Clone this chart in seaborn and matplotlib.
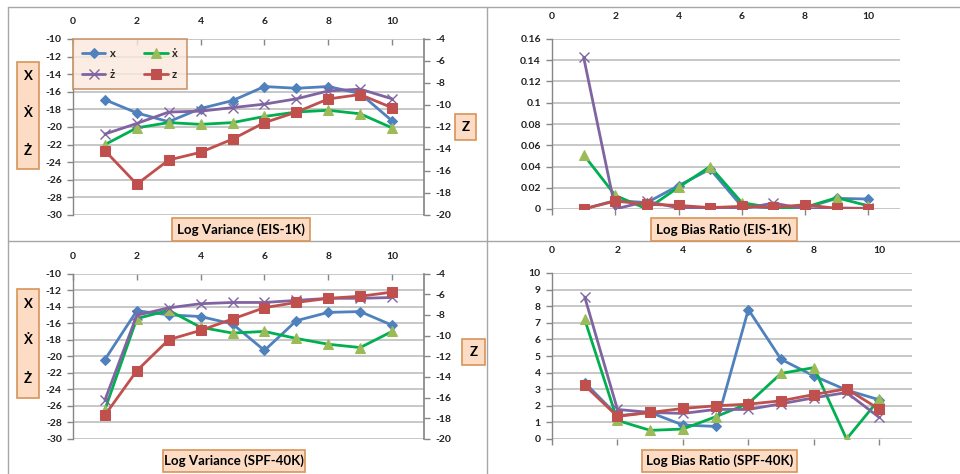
import matplotlib
matplotlib.use("Agg")
import matplotlib.pyplot as plt
import seaborn as sns
import pandas as pd
from matplotlib.patches import Rectangle
from matplotlib.lines import Line2D
from matplotlib.ticker import FuncFormatter, MultipleLocator

sns.set_theme(style="white")
plt.rcParams['font.family'] = ['Lato', 'DejaVu Sans']

# ---------------- data ----------------
steps = [1, 2, 3, 4, 5, 6, 7, 8, 9, 10]
series_labels = ["x", "ẋ", "ż", "z"]

# Log Variance (EIS-1K)
var_eis_x    = [-16.9, -18.4, -19.4, -17.9, -17.0, -15.4, -15.6, -15.4, -16.2, -19.3]
var_eis_xdot = [-22.0, -20.1, -19.5, -19.7, -19.5, -18.8, -18.3, -18.1, -18.5, -20.1]
var_eis_zdot = [-20.8, -19.6, -18.3, -18.2, -17.8, -17.4, -16.8, -15.9, -15.7, -16.8]
var_eis_z    = [-14.15, -17.2, -15.0, -14.3, -13.1, -11.6, -10.65, -9.45, -9.05, -10.25]

# Log Bias Ratio (EIS-1K)
bias_eis_x    = [0.0, 0.008, 0.006, 0.022, 0.0375, 0.0025, 0.001, 0.001, 0.010, 0.0094]
bias_eis_xdot = [0.051, 0.0128, 0.0, 0.0204, 0.040, 0.006, 0.001, 0.0016, 0.0106, 0.003]
bias_eis_zdot = [0.1428, 0.0, 0.0072, 0.001, 0.001, 0.0, 0.0056, 0.0, 0.001, 0.0006]
bias_eis_z    = [0.0, 0.0075, 0.0044, 0.0034, 0.0013, 0.0025, 0.0016, 0.004, 0.0006, 0.0]

# Log Variance (SPF-40K)
var_spf_x    = [-20.4, -14.5, -15.0, -15.2, -16.1, -19.3, -15.7, -14.7, -14.6, -16.25]
var_spf_xdot = [-26.45, -15.45, -14.45, -16.5, -17.2, -17.0, -17.85, -18.55, -18.95, -17.0]
var_spf_zdot = [-25.3, -15.05, -14.15, -13.65, -13.5, -13.5, -13.25, -13.0, -13.0, -12.9]
var_spf_z    = [-17.7, -13.4, -10.4, -9.5, -8.4, -7.3, -6.8, -6.4, -6.2, -5.8]

# Log Bias Ratio (SPF-40K)
bias_spf_x    = [3.4, 1.4, 1.6, 0.84, 0.76, 7.8, 4.8, 3.8, 2.95, 2.36]
bias_spf_xdot = [7.2, 1.12, 0.52, 0.6, 1.34, 2.14, 3.95, 4.3, 0.0, 2.4]
bias_spf_zdot = [8.55, 1.78, 1.6, 1.54, 1.78, 1.78, 2.12, 2.48, 2.8, 1.3]
bias_spf_z    = [3.23, 1.36, 1.6, 1.84, 2.0, 2.1, 2.3, 2.68, 3.02, 1.8]

titles = ["Log Variance (EIS-1K)", "Log Bias Ratio (EIS-1K)",
          "Log Variance (SPF-40K)", "Log Bias Ratio (SPF-40K)"]
x_ticks = [0, 2, 4, 6, 8, 10]

# ---------------- style ----------------
W, H = 960, 474
fig = plt.figure(figsize=(9.6, 4.74), dpi=100)
fig.patch.set_facecolor("white")

styles = {
    "x": dict(color="#4F81BD", marker="D", markersize=5.5, markerfacecolor="#4F81BD", markeredgecolor="#4F81BD"),
    "ẋ": dict(color="#00B050", marker="^", markersize=7.5, markerfacecolor="#9BBB59", markeredgecolor="#9BBB59"),
    "ż": dict(color="#8064A2", marker="x", markersize=7, markeredgewidth=1.0, markeredgecolor="#8064A2"),
    "z": dict(color="#C0504D", marker="s", markersize=7, markerfacecolor="#C0504D", markeredgecolor="#C0504D"),
}
GRID = "#BEBEBE"
AX = "#868686"
TXT = "#222222"
BOX_FILL = "#FCDCC4"
BOX_EDGE = "#D9955A"


def fr(x0, y0, x1, y1):
    """pixel box (top-left origin) -> figure fraction rect"""
    return [x0 / W, 1 - y1 / H, (x1 - x0) / W, (y1 - y0) / H]


def draw(ax, vals, label):
    df = pd.DataFrame({"step": steps, "v": vals})
    sns.lineplot(data=df, x="step", y="v", ax=ax, linewidth=2.0, label=None,
                 legend=False, **styles[label])
    return ax.lines[-1]


fmt = FuncFormatter(lambda v, p: "{:g}".format(round(v, 4)))


def style_axes(ax, ylim, ystep):
    ax.set_facecolor("none")
    ax.set_xlim(0, 11)
    ax.set_ylim(*ylim)
    ax.yaxis.set_major_locator(MultipleLocator(ystep))
    ax.yaxis.set_major_formatter(fmt)
    ax.set_xticks(x_ticks)
    ax.xaxis.set_major_formatter(fmt)
    ax.grid(axis="y", color=GRID, linewidth=1.2)
    ax.grid(axis="x", visible=False)
    for s in ax.spines.values():
        s.set_visible(False)
    ax.spines["left"].set_visible(True)
    ax.spines["left"].set_color(AX)
    ax.spines["left"].set_linewidth(1.0)
    ax.tick_params(axis="y", left=True, direction="out", length=4, width=1, color=AX,
                   labelsize=7.5, labelcolor=TXT, pad=4)
    ax.set_xlabel("")
    ax.set_ylabel("")


def style_xaxis(ax, ticks_at_top):
    ax.tick_params(axis="x", top=ticks_at_top, bottom=not ticks_at_top,
                   labeltop=True, labelbottom=False, direction="in" if ticks_at_top else "out",
                   length=4, width=1, color=AX, labelsize=7.5, labelcolor=TXT, pad=9)
    for lab in ax.get_xticklabels():
        lab.set_fontweight("bold")
    for lab in ax.get_yticklabels():
        lab.set_fontweight("bold")


def box(x0, y0, x1, y1, fill=BOX_FILL, edge=BOX_EDGE):
    r = Rectangle((x0 / W, 1 - y1 / H), (x1 - x0) / W, (y1 - y0) / H,
                  transform=fig.transFigure, facecolor=fill, edgecolor=edge,
                  linewidth=1.2, zorder=5)
    fig.add_artist(r)


def ftext(x, y, s, size=9.5):
    fig.text(x / W, 1 - y / H, s, ha="center", va="center", fontsize=size,
             fontweight="bold", color="black", zorder=6)


# ---------------- panels ----------------
variance_panels = [
    (fr(73, 39, 424, 215), (var_eis_x, var_eis_xdot, var_eis_zdot, var_eis_z)),
    (fr(73, 273.5, 424, 439), (var_spf_x, var_spf_xdot, var_spf_zdot, var_spf_z)),
]
bias_panels = [
    (fr(552, 39, 900, 209), (bias_eis_x, bias_eis_xdot, bias_eis_zdot, bias_eis_z), (0, 0.16), 0.02),
    (fr(552, 273, 912, 439), (bias_spf_x, bias_spf_xdot, bias_spf_zdot, bias_spf_z), (0, 10), 1),
]

legend_handles = None
for i, (rect, data) in enumerate(variance_panels):
    ax = fig.add_axes(rect)
    ax2 = ax.twinx()
    hs = []
    for lab, vals in zip(series_labels[:3], data[:3]):
        hs.append(draw(ax, vals, lab))
    hs.append(draw(ax2, data[3], "z"))
    style_axes(ax, (-30, -10), 2)
    ax2.set_ylim(-20, -4)
    ax2.yaxis.set_major_locator(MultipleLocator(2))
    ax2.yaxis.set_major_formatter(fmt)
    ax2.grid(False)
    for s in ax2.spines.values():
        s.set_visible(False)
    ax2.spines["right"].set_visible(True)
    ax2.spines["right"].set_color(AX)
    ax2.tick_params(axis="y", right=True, direction="out", length=4, width=1, color=AX,
                    labelsize=7.5, labelcolor=TXT, pad=4)
    ax2.set_ylabel("")
    for lab in ax2.get_yticklabels():
        lab.set_fontweight("bold")
    style_xaxis(ax, True)
    if i == 0:
        legend_handles = hs

for rect, data, ylim, ystep in bias_panels:
    ax = fig.add_axes(rect)
    for lab, vals in zip(series_labels, data):
        draw(ax, vals, lab)
    style_axes(ax, ylim, ystep)
    style_xaxis(ax, False)

# legend (column-wise: x, ż | ẋ, z)
order = [0, 2, 1, 3]
leg = fig.legend([legend_handles[k] for k in order], [series_labels[k] for k in order],
                 ncol=2, loc="upper left", bbox_to_anchor=(73 / W, 1 - 39 / H),
                 bbox_transform=fig.transFigure, borderaxespad=0, frameon=True,
                 fancybox=False, handlelength=2.1, columnspacing=2.6, labelspacing=0.9,
                 borderpad=0.8, handletextpad=0.4, prop={"weight": "bold", "size": 8})
leg.get_frame().set_facecolor("#FBE9DC")
leg.get_frame().set_edgecolor("#C0804D")
leg.get_frame().set_linewidth(1.2)
leg.set_zorder(7)

# ---------------- frame / separators ----------------
LC = "#A6A6A6"
fig.add_artist(Line2D([8 / W, 1], [1 - 7 / H, 1 - 7 / H], transform=fig.transFigure, color=LC, lw=1.0))
fig.add_artist(Line2D([8 / W, 8 / W], [0, 1 - 7 / H], transform=fig.transFigure, color=LC, lw=1.0))
fig.add_artist(Line2D([487 / W, 487 / W], [0, 1 - 7 / H], transform=fig.transFigure, color=LC, lw=1.0))
fig.add_artist(Line2D([8 / W, 1], [1 - 241 / H, 1 - 241 / H], transform=fig.transFigure, color=LC, lw=1.0))

# ---------------- label boxes ----------------
# titles
box(172, 218, 310, 241); ftext(241, 229.5, titles[0])
box(651, 218, 797, 241); ftext(724, 229.5, titles[1])
box(163, 450, 305, 472); ftext(234, 461, titles[2])
box(642, 450, 797, 472); ftext(719.5, 461, titles[3])

# left Y label boxes
box(17, 62, 39, 169)
ftext(28, 76, "X"); ftext(28, 113, "Ẋ"); ftext(28, 151, "Ż")
box(17, 289, 39, 398)
ftext(28, 304, "X"); ftext(28, 340, "Ẋ"); ftext(28, 379, "Ż")
# right Z boxes
box(455, 114, 476, 140); ftext(465.5, 127, "Z")
box(462, 339, 485, 365); ftext(473.5, 352, "Z")

fig.savefig("out.png", dpi=100, facecolor="white")
